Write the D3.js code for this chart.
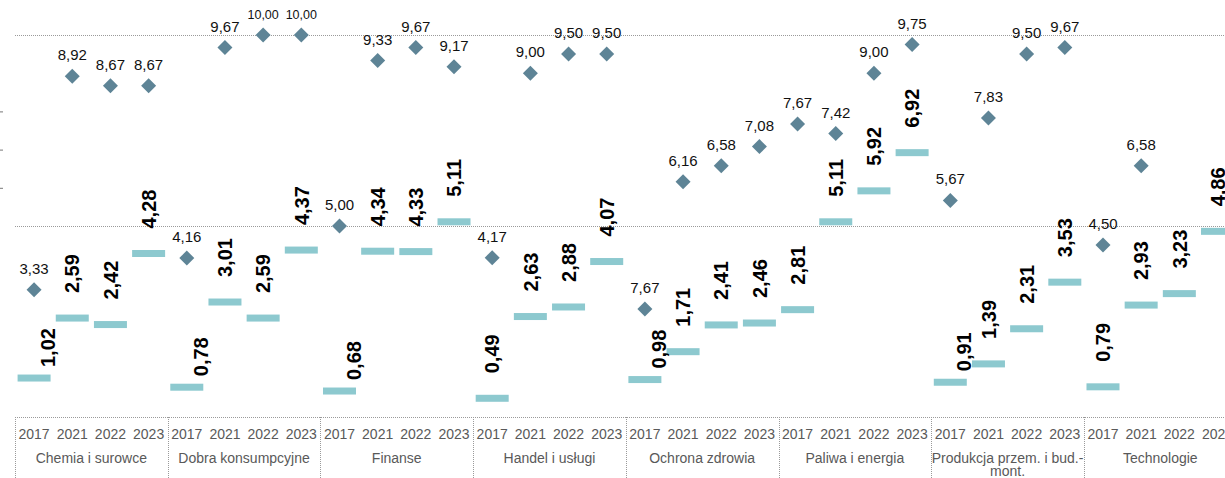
<!DOCTYPE html>
<html>
<head>
<meta charset="utf-8">
<script src="https://cdn.jsdelivr.net/npm/d3@7"></script>
<style>
  body { margin: 0; background: #fff; overflow: hidden; }
  svg { display: block; font-family: "Liberation Sans", Arial, sans-serif; }
</style>
</head>
<body>
<script>
const categories = ["Chemia i surowce", "Dobra konsumpcyjne", "Finanse", "Handel i usługi",
  "Ochrona zdrowia", "Paliwa i energia", "Produkcja przem. i bud.-mont.", "Technologie"];
const years = ["2017", "2021", "2022", "2023"];

// teal dashes (bold rotated labels)
const barValues = [
  [1.02, 2.59, 2.42, 4.28],
  [0.78, 3.01, 2.59, 4.37],
  [0.68, 4.34, 4.33, 5.11],
  [0.49, 2.63, 2.88, 4.07],
  [0.98, 1.71, 2.41, 2.46],
  [2.81, 5.11, 5.92, 6.92],
  [0.91, 1.39, 2.31, 3.53],
  [0.79, 2.93, 3.23, 4.86]
];

// diamonds (plotted position) and the labels printed next to them
const diamondValues = [
  [3.33, 8.92, 8.67, 8.67],
  [4.16, 9.67, 10.00, 10.00],
  [5.00, 9.33, 9.67, 9.17],
  [4.17, 9.00, 9.50, 9.50],
  [2.83, 6.16, 6.58, 7.08],
  [7.67, 7.42, 9.00, 9.75],
  [5.67, 7.83, 9.50, 9.67],
  [4.50, 6.58, null, null]
];
const diamondLabels = [
  ["3,33", "8,92", "8,67", "8,67"],
  ["4,16", "9,67", "10,00", "10,00"],
  ["5,00", "9,33", "9,67", "9,17"],
  ["4,17", "9,00", "9,50", "9,50"],
  ["7,67", "6,16", "6,58", "7,08"],
  ["7,67", "7,42", "9,00", "9,75"],
  ["5,67", "7,83", "9,50", "9,67"],
  ["4,50", "6,58", null, null]
];

const gridValues = [5, 10];
const leftTicks = [6, 7, 8];

let width = 1225,
  height = 478;

let left = 15,
  catWidth = 152.7,
  baseY = 417,
  topY = 35;

let diamondColor = "#5e8496",
  barColor = "#8dc9cf",
  gridColor = "#9a9a9a",
  axisText = "#595959";

let fmt = v => v.toFixed(2).replace(".", ",");

let svg = d3.select("body").append("svg")
  .attr("width", width)
  .attr("height", height);

let x0 = d3.scaleBand()
  .domain(categories)
  .range([left, left + catWidth * categories.length]);

let x1 = d3.scaleBand()
  .domain(years)
  .range([0, x0.bandwidth()]);

let y = d3.scaleLinear()
  .domain([0, 10])
  .range([baseY, topY]);

// flatten into points
let points = [];
categories.forEach((c, i) => {
  years.forEach((yr, j) => {
    points.push({
      cat: c, year: yr, ci: i, yi: j,
      bar: barValues[i][j],
      dia: diamondValues[i][j],
      diaLabel: diamondLabels[i][j],
      cx: x0(c) + x1(yr) + x1.bandwidth() / 2
    });
  });
});

// left tick marks
svg.append("g")
  .attr("transform", "translate(3,0)")
  .call(d3.axisLeft(y).tickValues(leftTicks).tickSize(3).tickFormat(""))
  .call(g => g.select(".domain").remove())
  .call(g => g.selectAll("line").attr("stroke", "#777"));

// dotted gridlines
svg.selectAll(".grid")
  .data(gridValues)
  .enter().append("line")
  .attr("class", "grid")
  .attr("x1", left).attr("x2", width)
  .attr("y1", d => Math.round(y(d)) + 0.5).attr("y2", d => Math.round(y(d)) + 0.5)
  .attr("stroke", gridColor)
  .attr("stroke-dasharray", "1,1");

// x axis line + category separators
svg.append("line")
  .attr("x1", left).attr("x2", width)
  .attr("y1", baseY + 0.5).attr("y2", baseY + 0.5)
  .attr("stroke", gridColor)
  .attr("stroke-dasharray", "1,1");

svg.selectAll(".sep")
  .data(categories.concat(["end"]))
  .enter().append("line")
  .attr("class", "sep")
  .attr("x1", (d, i) => Math.round(left + i * x0.step()) + 0.5)
  .attr("x2", (d, i) => Math.round(left + i * x0.step()) + 0.5)
  .attr("y1", baseY).attr("y2", height)
  .attr("stroke", gridColor)
  .attr("stroke-dasharray", "1,1");

// year labels
svg.selectAll(".year")
  .data(points)
  .enter().append("text")
  .attr("class", "year")
  .attr("x", d => d.cx)
  .attr("y", 439)
  .attr("text-anchor", "middle")
  .attr("font-size", 14)
  .attr("fill", axisText)
  .text(d => d.year);

// category labels (wrapped at "bud.-")
let catText = svg.selectAll(".cat")
  .data(categories)
  .enter().append("text")
  .attr("class", "cat")
  .attr("x", d => x0(d) + x0.bandwidth() / 2)
  .attr("y", 463)
  .attr("text-anchor", "middle")
  .attr("font-size", 14)
  .attr("fill", axisText);

catText.each(function(d) {
  let parts = d.indexOf("bud.-") >= 0 ? [d.slice(0, d.indexOf("bud.-") + 5), d.slice(d.indexOf("bud.-") + 5)] : [d];
  let t = d3.select(this);
  parts.forEach((p, k) => {
    t.append("tspan")
      .attr("x", x0(d) + x0.bandwidth() / 2)
      .attr("dy", k === 0 ? 0 : 13)
      .text(p);
  });
});

// teal dashes
let barW = 33, barH = 7;
svg.selectAll(".bar")
  .data(points)
  .enter().append("rect")
  .attr("class", "bar")
  .attr("x", d => d.cx - barW / 2)
  .attr("y", d => y(d.bar) - barH / 2)
  .attr("width", barW)
  .attr("height", barH)
  .attr("fill", barColor);

// bold rotated labels; some 2017 labels sit lower and to the right
const shifted = new Set([0, 1, 2, 4, 6]);
svg.selectAll(".barLabel")
  .data(points)
  .enter().append("text")
  .attr("class", "barLabel")
  .attr("transform", d => {
    let s = d.yi === 0 && shifted.has(d.ci);
    let lx = d.cx + (s ? 14 : 0);
    let ly = y(d.bar) - (s ? 11 : 25);
    return "translate(" + lx + "," + ly + ") rotate(-90)";
  })
  .attr("dy", "0.36em")
  .attr("font-size", 20)
  .attr("font-weight", "bold")
  .attr("fill", "#000")
  .text(d => fmt(d.bar));

// diamonds
let dia = points.filter(d => d.dia != null);
svg.selectAll(".dia")
  .data(dia)
  .enter().append("path")
  .attr("class", "dia")
  .attr("d", "M0,-7.5L7.5,0L0,7.5L-7.5,0Z")
  .attr("transform", d => "translate(" + d.cx + "," + y(d.dia) + ")")
  .attr("fill", diamondColor);

svg.selectAll(".diaLabel")
  .data(dia)
  .enter().append("text")
  .attr("class", "diaLabel")
  .attr("x", d => d.cx)
  .attr("y", d => y(d.dia) - 16)
  .attr("text-anchor", "middle")
  .attr("font-size", d => d.diaLabel.length > 4 ? 12.5 : 15)
  .attr("fill", "#111")
  .text(d => d.diaLabel);
</script>
</body>
</html>
